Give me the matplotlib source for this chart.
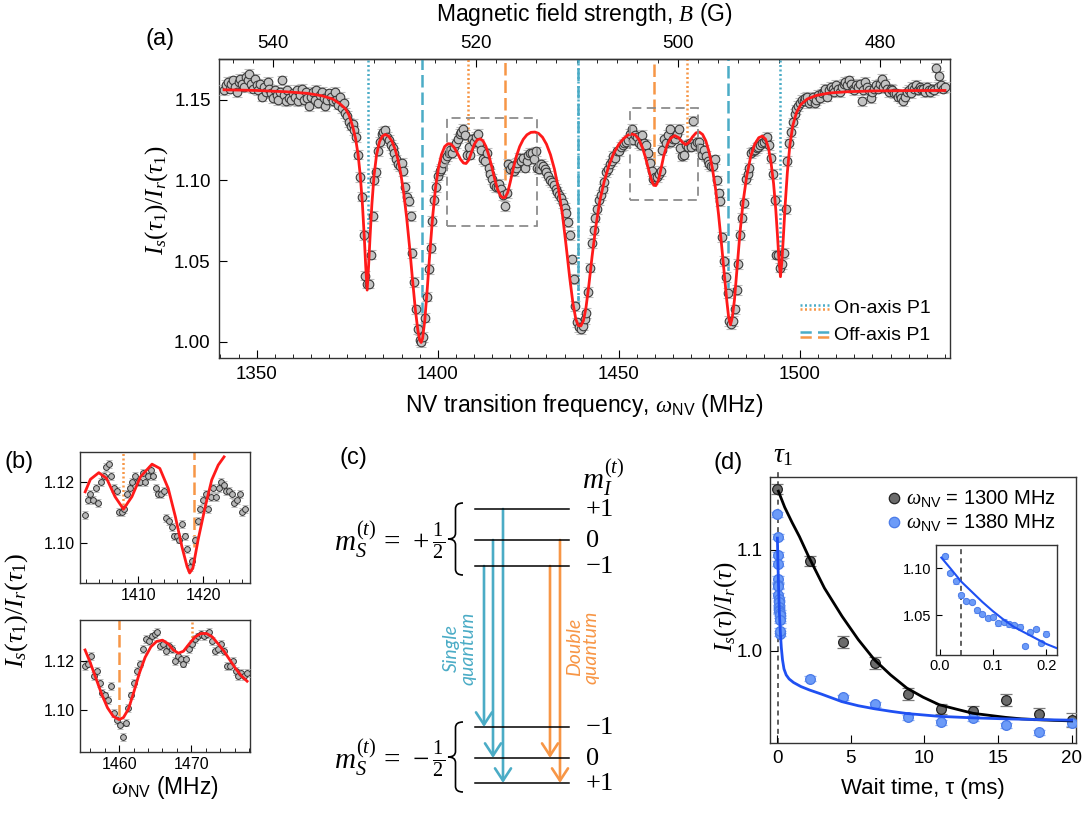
import numpy as np
import matplotlib.pyplot as plt
from matplotlib.path import Path
from matplotlib.patches import PathPatch, Rectangle, FancyArrowPatch
from matplotlib.ticker import MultipleLocator, FormatStrFormatter

plt.rcParams['font.family'] = ['Liberation Sans', 'DejaVu Sans']
plt.rcParams['mathtext.fontset'] = 'custom'
plt.rcParams['mathtext.rm'] = 'Liberation Serif'
plt.rcParams['mathtext.it'] = 'Liberation Serif:italic'
plt.rcParams['mathtext.bf'] = 'Liberation Serif:bold'
plt.rcParams['mathtext.sf'] = 'Liberation Sans'
plt.rcParams['axes.linewidth'] = 1.0
plt.rcParams['axes.edgecolor'] = '#333333'

BLUE = '#4bacc6'
ORANGE = '#f79646'
RED = '#ff1a1a'

# ---------------- panel (a): sweep over NV frequency ----------------
freq_start = 1341.0
freq_step = 0.5
ratio_a = [
    1.156, 1.159, 1.161, 1.157, 1.160, 1.162, 1.158, 1.155, 1.161, 1.163,
    1.160, 1.158, 1.164, 1.162, 1.166, 1.160, 1.157, 1.163, 1.159, 1.156,
    1.160, 1.152, 1.158, 1.155, 1.161, 1.157, 1.154, 1.151, 1.156, 1.153,
    1.150, 1.155, 1.162, 1.153, 1.149, 1.156, 1.151, 1.150, 1.154, 1.152,
    1.156, 1.149, 1.153, 1.157, 1.150, 1.155, 1.151, 1.146, 1.152, 1.155,
    1.150, 1.156, 1.148, 1.153, 1.155, 1.151, 1.146, 1.150, 1.154, 1.152,
    1.149, 1.155, 1.150, 1.147, 1.152, 1.145, 1.148, 1.142, 1.140, 1.136,
    1.134, 1.135, 1.131, 1.127, 1.116, 1.102, 1.090, 1.066, 1.041, 1.036,
    1.036, 1.054, 1.078, 1.100, 1.105, 1.118, 1.124, 1.129, 1.130, 1.131,
    1.127, 1.125, 1.122, 1.120, 1.117, 1.113, 1.110, 1.109, 1.111, 1.106,
    1.096, 1.090, 1.087, 1.078, 1.055, 1.037, 1.020, 1.008, 1.001, 1.000,
    1.003, 1.015, 1.028, 1.045, 1.058, 1.075, 1.088, 1.096, 1.103, 1.106,
    1.107, 1.111, 1.113, 1.115, 1.117, 1.119, 1.117, 1.121, 1.123, 1.126,
    1.129, 1.130, 1.132, 1.128, 1.116, 1.121, 1.116, 1.126, 1.124, 1.127,
    1.129, 1.123, 1.119, 1.113, 1.112, 1.117, 1.108, 1.104, 1.101, 1.097,
    1.096, 1.096, 1.098, 1.095, 1.091, 1.084, 1.092, 1.110, 1.107, 1.109,
    1.106, 1.108, 1.111, 1.114, 1.112, 1.114, 1.108, 1.112, 1.116, 1.117,
    1.117, 1.113, 1.118, 1.108, 1.107, 1.110, 1.109, 1.107, 1.105, 1.103,
    1.100, 1.099, 1.097, 1.095, 1.093, 1.091, 1.089, 1.086, 1.083, 1.080,
    1.074, 1.066, 1.051, 1.039, 1.022, 1.012, 1.009, 1.008, 1.010, 1.014,
    1.018, 1.031, 1.046, 1.061, 1.069, 1.077, 1.082, 1.088, 1.091, 1.095,
    1.099, 1.105, 1.107, 1.110, 1.112, 1.115, 1.114, 1.118, 1.118, 1.121,
    1.122, 1.123, 1.124, 1.125, 1.129, 1.132, 1.125, 1.128, 1.127, 1.123,
    1.122, 1.128, 1.123, 1.122, 1.117, 1.111, 1.106, 1.101, 1.102, 1.102,
    1.104, 1.106, 1.119, 1.126, 1.123, 1.128, 1.132, 1.124, 1.126, 1.126,
    1.129, 1.132, 1.120, 1.115, 1.116, 1.122, 1.121, 1.123, 1.121, 1.137,
    1.122, 1.124, 1.124, 1.120, 1.116, 1.119, 1.115, 1.112, 1.110, 1.109,
    1.109, 1.113, 1.100, 1.092, 1.087, 1.065, 1.050, 1.040, 1.030, 1.013,
    1.011, 1.013, 1.020, 1.032, 1.048, 1.066, 1.077, 1.086, 1.101, 1.104,
    1.108, 1.117, 1.118, 1.119, 1.120, 1.121, 1.122, 1.123, 1.124, 1.126,
    1.127, 1.122, 1.114, 1.104, 1.088, 1.054, 1.054, 1.046, 1.048, 1.055,
    1.082, 1.112, 1.123, 1.130, 1.136, 1.141, 1.144, 1.146, 1.148, 1.150,
    1.149, 1.151, 1.152, 1.148, 1.149, 1.152, 1.148, 1.150, 1.153, 1.151,
    1.154, 1.155, 1.157, 1.152, 1.156, 1.158, 1.157, 1.155, 1.159, 1.157,
    1.155, 1.158, 1.160, 1.161, 1.159, 1.162, 1.160, 1.157, 1.156, 1.159,
    1.158, 1.160, 1.149, 1.156, 1.161, 1.158, 1.156, 1.151, 1.155, 1.157,
    1.159, 1.157, 1.160, 1.163, 1.158, 1.160, 1.157, 1.155, 1.157, 1.156,
    1.154, 1.154, 1.152, 1.153, 1.151, 1.149, 1.152, 1.155, 1.156, 1.154,
    1.158, 1.157, 1.159, 1.156, 1.158, 1.157, 1.157, 1.155, 1.158, 1.156,
    1.155, 1.157, 1.156, 1.170, 1.158, 1.165, 1.159, 1.157, 1.158,
]
err_a = 0.003

fit_a_freq = [
    1341.0, 1350.0, 1358.0, 1364.0, 1368.0, 1371.0, 1373.0, 1374.5, 1375.5, 1376.5,
    1377.3, 1378.0, 1378.6, 1379.2, 1379.7, 1380.1, 1380.5, 1380.9, 1381.3, 1381.8,
    1382.4, 1383.1, 1383.9, 1384.7, 1385.5, 1386.4, 1387.3, 1388.2, 1389.0, 1389.8,
    1390.6, 1391.4, 1392.2, 1393.0, 1393.8, 1394.5, 1395.0, 1395.4, 1395.8, 1396.4,
    1397.1, 1397.8, 1398.6, 1399.4, 1400.2, 1401.0, 1401.9, 1402.8, 1403.6, 1404.5,
    1405.4, 1406.3, 1407.1, 1407.8, 1408.5, 1409.3, 1410.1, 1410.9, 1411.7, 1412.5,
    1413.3, 1414.1, 1414.9, 1415.7, 1416.5, 1417.3, 1418.0, 1418.6, 1419.3, 1420.0,
    1420.8, 1421.7, 1422.6, 1423.6, 1424.6, 1425.7, 1426.8, 1427.8, 1428.9, 1430.0,
    1431.1, 1432.2, 1433.3, 1434.4, 1435.4, 1436.4, 1437.3, 1438.1, 1438.8, 1439.5,
    1440.2, 1440.9, 1441.7, 1442.6, 1443.6, 1444.7, 1445.9, 1447.2, 1448.6, 1450.0,
    1451.4, 1452.6, 1453.5, 1454.5, 1455.5, 1456.4, 1457.3, 1458.1, 1458.9, 1459.6,
    1460.2, 1460.9, 1461.6, 1462.4, 1463.3, 1464.3, 1465.4, 1466.5, 1467.5, 1468.4,
    1469.3, 1470.3, 1471.3, 1472.2, 1473.1, 1474.0, 1474.9, 1475.8, 1476.7, 1477.5,
    1478.3, 1479.1, 1479.8, 1480.3, 1480.8, 1481.3, 1481.9, 1482.6, 1483.4, 1484.3,
    1485.3, 1486.4, 1487.5, 1488.6, 1489.6, 1490.5, 1491.3, 1492.0, 1492.7, 1493.3,
    1493.8, 1494.2, 1494.6, 1495.0, 1495.4, 1495.9, 1496.5, 1497.2, 1498.0, 1499.0,
    1500.2, 1502.0, 1504.5, 1508.0, 1513.0, 1520.0, 1530.0, 1540.0,
]
fit_a_ratio = [
    1.1562, 1.1558, 1.1550, 1.1540, 1.1525, 1.1505, 1.1475, 1.1445, 1.1405, 1.1335,
    1.1260, 1.1160, 1.1030, 1.0850, 1.0650, 1.0470, 1.0320, 1.0470, 1.0650, 1.0850,
    1.1030, 1.1160, 1.1240, 1.1275, 1.1285, 1.1275, 1.1245, 1.1195, 1.1130, 1.1040,
    1.0920, 1.0770, 1.0590, 1.0390, 1.0200, 1.0070, 1.0010, 0.9995, 1.0020, 1.0130,
    1.0330, 1.0550, 1.0780, 1.0960, 1.1080, 1.1160, 1.1210, 1.1228, 1.1225, 1.1205,
    1.1170, 1.1130, 1.1108, 1.1105, 1.1125, 1.1175, 1.1225, 1.1252, 1.1258, 1.1245,
    1.1210, 1.1155, 1.1085, 1.1010, 1.0945, 1.0905, 1.0892, 1.0895, 1.0925, 1.0990,
    1.1070, 1.1150, 1.1210, 1.1255, 1.1283, 1.1298, 1.1300, 1.1292, 1.1268, 1.1225,
    1.1160, 1.1070, 1.0950, 1.0790, 1.0600, 1.0400, 1.0240, 1.0140, 1.0100, 1.0098,
    1.0130, 1.0210, 1.0350, 1.0530, 1.0710, 1.0870, 1.0990, 1.1090, 1.1170, 1.1225,
    1.1262, 1.1283, 1.1288, 1.1282, 1.1255, 1.1210, 1.1145, 1.1075, 1.1010, 1.0970,
    1.0968, 1.1000, 1.1070, 1.1155, 1.1220, 1.1262, 1.1278, 1.1265, 1.1237, 1.1222,
    1.1235, 1.1270, 1.1295, 1.1300, 1.1285, 1.1245, 1.1175, 1.1075, 1.0945, 1.0790,
    1.0610, 1.0420, 1.0250, 1.0150, 1.0105, 1.0150, 1.0260, 1.0450, 1.0670, 1.0870,
    1.1030, 1.1150, 1.1225, 1.1265, 1.1275, 1.1255, 1.1200, 1.1110, 1.0980, 1.0820,
    1.0650, 1.0500, 1.0403, 1.0500, 1.0650, 1.0850, 1.1050, 1.1220, 1.1340, 1.1420,
    1.1470, 1.1505, 1.1527, 1.1542, 1.1550, 1.1555, 1.1557, 1.1558,
]

# P1 resonance markers: position (MHz) and lower end of the line
on_blue_f, on_blue_lo = [1380.6, 1438.7, 1494.6], [1.062, 1.021, 1.056]
off_blue_f, off_blue_lo = [1395.6, 1438.7, 1480.1], [1.006, 1.021, 1.033]
on_orange_f, on_orange_lo = [1408.3, 1468.8], [1.121, 1.127]
off_orange_f, off_orange_lo = [1418.6, 1459.8], [1.100, 1.110]
zoom_boxes = [(1402.5, 1427.5, 1.072, 1.139), (1453.1, 1471.8, 1.088, 1.145)]

# ---------------- panel (b): zoomed scans ----------------
freq_b1_start, freq_b1_end = 1401.8, 1426.4
ratio_b1 = [
    1.109, 1.114, 1.116, 1.114, 1.118, 1.113, 1.120, 1.122, 1.125, 1.126,
    1.122, 1.118, 1.117, 1.110, 1.110, 1.111, 1.116, 1.118, 1.120, 1.122,
    1.120, 1.120, 1.123, 1.120, 1.122, 1.124, 1.122, 1.118, 1.116, 1.116,
    1.117, 1.108, 1.107, 1.105, 1.102, 1.102, 1.101, 1.106, 1.102, 1.098,
    1.092, 1.094, 1.101, 1.107, 1.111, 1.114, 1.116, 1.111, 1.115, 1.118,
    1.115, 1.118, 1.120, 1.119, 1.117, 1.117, 1.116, 1.113, 1.114, 1.116,
    1.110, 1.111,
]
fit_b1_freq = [1401.8, 1402.6, 1403.9, 1405.1, 1406.4, 1407.7, 1409.0, 1410.3, 1412.1,
               1413.3, 1414.6, 1415.7, 1416.7, 1417.5, 1417.9, 1418.4, 1419.2, 1420.3,
               1421.3, 1422.3, 1423.2]
fit_b1_ratio = [1.1167, 1.1208, 1.1230, 1.1211, 1.1151, 1.1110, 1.1151, 1.1216, 1.1258,
                1.1244, 1.1178, 1.1085, 1.0987, 1.0921, 1.0900, 1.0916, 1.1009, 1.1118,
                1.1206, 1.1255, 1.1282]
lines_b1 = [(1407.7, 1.1124, 'on'), (1418.6, 1.0987, 'off')]

freq_b2_start, freq_b2_end = 1455.3, 1477.7
ratio_b2 = [
    1.118, 1.119, 1.122, 1.114, 1.116, 1.111, 1.107, 1.106, 1.104, 1.110,
    1.099, 1.096, 1.094, 1.089, 1.095, 1.101, 1.106, 1.111, 1.116, 1.119,
    1.125, 1.129, 1.128, 1.130, 1.131, 1.132, 1.126, 1.127, 1.124, 1.126,
    1.125, 1.120, 1.122, 1.121, 1.119, 1.121, 1.125, 1.127, 1.129, 1.130,
    1.131, 1.130, 1.131, 1.132, 1.128, 1.124, 1.125, 1.127, 1.124, 1.118,
    1.118, 1.120, 1.116, 1.114, 1.115, 1.114, 1.115,
]
fit_b2_freq = [1455.3, 1456.0, 1456.8, 1457.6, 1458.4, 1459.2, 1460.0, 1460.6, 1461.3, 1462.0,
               1462.8, 1463.6, 1464.4, 1465.2, 1466.0, 1466.8, 1467.5, 1468.2, 1468.9, 1469.7,
               1470.5, 1471.3, 1472.1, 1472.9, 1473.7, 1474.5, 1475.3, 1476.1, 1476.9, 1477.7]
fit_b2_ratio = [1.1245, 1.1195, 1.1130, 1.1065, 1.1010, 1.0975, 1.0962, 1.0970, 1.1005, 1.1070,
                1.1150, 1.1215, 1.1258, 1.1280, 1.1285, 1.1270, 1.1245, 1.1232, 1.1240, 1.1270,
                1.1298, 1.1312, 1.1312, 1.1298, 1.1270, 1.1240, 1.1205, 1.1170, 1.1140, 1.1118]
lines_b2 = [(1460.0, 1.0973, 'off'), (1470.1, 1.1279, 'on')]

# ---------------- panel (c): level scheme ----------------
mI_values = [1, 0, -1]
mI_labels = {1: r'$+1$', 0: r'$0$', -1: r'$-1$'}
single_quantum = [(-1, -1), (0, 0), (1, 1)]     # (upper m_I, lower m_I)
double_quantum = [(-1, 0), (0, 1)]

# ---------------- panel (d): relaxation ----------------
tau_black = [0.0, 2.22, 4.44, 6.67, 8.89, 11.11, 13.33, 15.56, 17.78, 20.0]
ratio_black = [1.160, 1.089, 1.009, 0.988, 0.957, 0.942, 0.940, 0.951, 0.937, 0.931]
err_black = [0.005, 0.005, 0.006, 0.006, 0.006, 0.005, 0.005, 0.006, 0.006, 0.007]
tau_blue = [0.0, 0.01, 0.02, 0.03, 0.04, 0.05, 0.06, 0.07, 0.08, 0.09, 0.10,
            0.11, 0.12, 0.13, 0.14, 0.15, 0.16, 0.17, 0.18, 0.19, 0.20,
            2.22, 4.44, 6.67, 8.89, 11.11, 13.33, 15.56, 17.78, 20.0]
ratio_blue = [1.135, 1.113, 1.095, 1.086, 1.071, 1.065, 1.064, 1.055, 1.051, 1.047, 1.048,
              1.041, 1.043, 1.040, 1.039, 1.0375, 1.017, 1.0315, 1.035, 1.020, 1.030,
              0.972, 0.954, 0.947, 0.934, 0.929, 0.933, 0.926, 0.919, 0.928]
err_blue = 0.0025
fit_black_tau = [0.07, 0.5, 1.0, 1.5, 2.1, 3.2, 4.4, 5.5, 6.6, 7.7, 8.8, 9.9, 11.0,
                 12.2, 13.3, 14.4, 15.5, 16.6, 17.7, 18.8, 20.0]
fit_black = [1.158, 1.142, 1.127, 1.113, 1.094, 1.062, 1.034, 1.011, 0.991, 0.976, 0.963,
             0.954, 0.9465, 0.942, 0.938, 0.936, 0.934, 0.9325, 0.9317, 0.931, 0.9305]
fit_blue_tau = [0.003, 0.02, 0.04, 0.06, 0.08, 0.10, 0.12, 0.14, 0.16, 0.18, 0.20, 0.27,
                0.35, 0.45, 0.6, 0.8, 1.1, 1.6, 2.2, 3.0, 4.4, 5.5, 6.6, 7.7, 8.8,
                11.0, 13.3, 15.5, 17.7, 20.0]
fit_blue = [1.1115, 1.100, 1.086, 1.075, 1.064, 1.054, 1.045, 1.037, 1.031, 1.025, 1.019, 1.003,
            0.991, 0.982, 0.976, 0.972, 0.9685, 0.9645, 0.961, 0.957, 0.9495, 0.9455, 0.9425,
            0.940, 0.9378, 0.935, 0.9335, 0.9325, 0.9318, 0.9312]
tau_1 = 0.04

NV = r'$\omega_{\mathsf{NV}}$'


def f_to_b(f):
    return (2862.1 - np.asarray(f, dtype=float)) / 2.7917


def b_to_f(b):
    return 2862.1 - 2.7917 * np.asarray(b, dtype=float)


def px_axes(fig, x0, y0, x1, y1):
    W, H = fig.get_size_inches() * fig.dpi
    return fig.add_axes([x0 / W, 1 - y1 / H, (x1 - x0) / W, (y1 - y0) / H])


fig = plt.figure(figsize=(10.88, 8.13), dpi=100)
W, H = 1088, 813

# ================= (a) =================
ax = px_axes(fig, 219, 59, 950, 358)
freq_a = freq_start + freq_step * np.arange(len(ratio_a))
ax.errorbar(freq_a, ratio_a, yerr=err_a, fmt='o', ms=6.2, mfc='#c3c3c3', mec='#3a3a3a',
            mew=0.8, ecolor='#bdbdbd', elinewidth=0.8, capsize=3.5, capthick=1.0, zorder=3)
dot = (0, (0.8, 1.0))
dash = (0, (5, 2))
ax.vlines(on_blue_f, on_blue_lo, 1.18, colors=BLUE, linestyles=dot, lw=1.8, zorder=2)
ax.vlines(off_blue_f, off_blue_lo, 1.18, colors=BLUE, linestyles=dash, lw=1.8, zorder=2)
ax.vlines(on_orange_f, on_orange_lo, 1.18, colors=ORANGE, linestyles=dot, lw=1.8, zorder=2)
ax.vlines(off_orange_f, off_orange_lo, 1.18, colors=ORANGE, linestyles=dash, lw=1.8, zorder=2)
ax.plot(fit_a_freq, fit_a_ratio, color=RED, lw=2.0, zorder=4)
for x0, x1, y0, y1 in zoom_boxes:
    ax.add_patch(Rectangle((x0, y0), x1 - x0, y1 - y0, fill=False, ec='#8c8c8c', lw=1.3,
                           ls=(0, (5, 3)), zorder=5))
ax.set_xlim(1339.6, 1541.4)
ax.set_ylim(0.9899, 1.1753)
ax.set_xticks([1350, 1400, 1450, 1500])
ax.xaxis.set_minor_locator(MultipleLocator(5))
ax.set_yticks([1.00, 1.05, 1.10, 1.15])
ax.yaxis.set_major_formatter(FormatStrFormatter('%.2f'))
ax.tick_params(which='both', direction='in', top=False, right=False)
ax.tick_params(which='major', length=6, labelsize=13.5, pad=6)
ax.tick_params(which='minor', length=3)
sec = ax.secondary_xaxis('top', functions=(f_to_b, b_to_f))
sec.set_xticks([540, 520, 500, 480])
sec.xaxis.set_minor_locator(MultipleLocator(2))
sec.tick_params(which='both', direction='in')
sec.tick_params(which='major', length=6, labelsize=13.5, pad=5)
sec.tick_params(which='minor', length=3)

fig.text(584 / W, 1 - 14 / H, 'Magnetic field strength, $B$ (G)', ha='center', va='center', fontsize=16.5)
fig.text(584 / W, 1 - 405 / H, 'NV transition frequency, ' + NV + ' (MHz)',
         ha='center', va='center', fontsize=16.5)
fig.text(157 / W, 1 - 200 / H, r'$I_s(\tau_1)/I_r(\tau_1)$', rotation=90, ha='center', va='center', fontsize=18)

# ================= (b) =================
def panel_b(box, f0, f1, vals, err, fx, fy, lines, xlim, ylim, xticks):
    a = px_axes(fig, *box)
    fr = np.linspace(f0, f1, len(vals))
    for x, lo, kind in lines:
        a.vlines(x, lo, ylim[1], colors=ORANGE, lw=1.8,
                 linestyles=dot if kind == 'on' else dash, zorder=2)
    a.errorbar(fr, vals, yerr=err, fmt='o', ms=4.2, mfc='#b8b8b8', mec='#333333', mew=0.7,
               ecolor='#bbbbbb', elinewidth=0.8, capsize=2.5, capthick=0.9, zorder=3)
    a.plot(fx, fy, color=RED, lw=2.0, zorder=4)
    a.set_xlim(*xlim)
    a.set_ylim(*ylim)
    a.set_xticks(xticks)
    a.xaxis.set_minor_locator(MultipleLocator(2))
    a.set_yticks([1.10, 1.12])
    a.yaxis.set_major_formatter(FormatStrFormatter('%.2f'))
    a.tick_params(which='both', direction='in', labelsize=11.5)
    a.tick_params(which='major', length=5)
    a.tick_params(which='minor', length=3)
    return a


panel_b((80, 452, 250, 583), freq_b1_start, freq_b1_end, ratio_b1, 0.0013,
        fit_b1_freq, fit_b1_ratio, lines_b1, (1401.0, 1427.2), (1.0867, 1.1298), [1410, 1420])
panel_b((80, 620, 250, 752), freq_b2_start, freq_b2_end, ratio_b2, 0.0016,
        fit_b2_freq, fit_b2_ratio, lines_b2, (1454.6, 1478.1), (1.083, 1.1367), [1460, 1470])
fig.text(17 / W, 1 - 610 / H, r'$I_s(\tau_1)/I_r(\tau_1)$', rotation=90, ha='center', va='center', fontsize=19)
fig.text(165 / W, 1 - 787 / H, NV + ' (MHz)', ha='center', va='center', fontsize=16.5)

# ================= (d) =================
axd = px_axes(fig, 770, 477, 1076, 743)
axd.axvline(tau_1, ymin=0, ymax=1.025, color='#444444', lw=1.2, ls=(0, (3, 2.5)), zorder=1, clip_on=False)
axd.errorbar(tau_black, ratio_black, yerr=err_black, fmt='o', ms=7, mfc='#6b6b6b', mec='#222222',
             mew=0.9, ecolor='#7a7a7a', elinewidth=1.0, capsize=4, capthick=1.0, zorder=3)
axd.errorbar(tau_blue, ratio_blue, yerr=err_blue, fmt='o', ms=7, mfc='#6c9bf8', mec='#4a7be8',
             mew=0.9, ecolor='#8fb0f5', elinewidth=1.0, capsize=4, capthick=1.0, zorder=3)
axd.plot(fit_black_tau, fit_black, color='black', lw=2.0, zorder=4)
axd.plot(fit_blue_tau, fit_blue, color='#1f50f2', lw=2.0, zorder=4)
axd.set_xlim(-0.5, 20.3)
axd.set_ylim(0.9086, 1.172)
axd.set_xticks([0, 5, 10, 15, 20])
axd.set_yticks([1.0, 1.1])
axd.yaxis.set_major_formatter(FormatStrFormatter('%.1f'))
axd.tick_params(direction='in', length=6, labelsize=13.5, top=False, right=False, pad=5)
fig.text(923 / W, 1 - 788 / H, 'Wait time, \u03c4 (ms)', ha='center', va='center', fontsize=16)
fig.text(726 / W, 1 - 607 / H, r'$I_s(\tau)/I_r(\tau)$', rotation=90, ha='center', va='center', fontsize=18)
fig.text(783 / W, 1 - 455 / H, r'$\tau_1$', ha='center', va='center', fontsize=20)

axi = px_axes(fig, 936, 545, 1057, 655)
axi.axvline(tau_1, color='#444444', lw=1.2, ls=(0, (3, 2.5)), zorder=1)
axi.errorbar(tau_blue, ratio_blue, yerr=err_blue, fmt='o', ms=4.5, mfc='#6c9bf8', mec='#4a7be8',
             mew=0.7, ecolor='#8fb0f5', elinewidth=0.8, capsize=2.5, capthick=0.8, zorder=3)
axi.plot(fit_blue_tau, fit_blue, color='#1f50f2', lw=1.5, zorder=4)
axi.set_xlim(-0.007, 0.22)
axi.set_ylim(1.0072, 1.125)
axi.set_xticks([0.0, 0.1, 0.2])
axi.set_yticks([1.05, 1.10])
axi.xaxis.set_major_formatter(FormatStrFormatter('%.1f'))
axi.yaxis.set_major_formatter(FormatStrFormatter('%.2f'))
axi.tick_params(direction='in', length=4, labelsize=10.5, pad=3)

# ================= overlay in figure pixels: (c), legends, panel letters =================
ov = fig.add_axes([0, 0, 1, 1])
ov.set_xlim(0, W)
ov.set_ylim(H, 0)
ov.axis('off')
ov.set_zorder(20)

for s, (x, y) in zip('abcd', [(160, 39), (19, 462), (353, 458), (728, 463)]):
    ov.text(x, y, f'({s})', ha='center', va='center', fontsize=17)

# legend of (a)
ov.plot([800, 831], [305, 305], color=BLUE, ls=dot, lw=1.8)
ov.plot([800, 831], [309, 309], color=ORANGE, ls=dot, lw=1.8)
ov.plot([800, 831], [332, 332], color=BLUE, ls=(0, (4.5, 2.5)), lw=1.8)
ov.plot([800, 831], [337, 337], color=ORANGE, ls=(0, (4.5, 2.5)), lw=1.8)
ov.text(834, 308, 'On-axis P1', ha='left', va='center', fontsize=14)
ov.text(834, 335, 'Off-axis P1', ha='left', va='center', fontsize=14)

# legend of (d)
ov.plot(894, 498, 'o', ms=7.5, mfc='#6b6b6b', mec='#222222', mew=0.9)
ov.plot(894, 522, 'o', ms=7.5, mfc='#6c9bf8', mec='#4a7be8', mew=0.9)
ov.text(906, 498, NV + ' = 1300 MHz', ha='left', va='center', fontsize=14.5)
ov.text(906, 522, NV + ' = 1380 MHz', ha='left', va='center', fontsize=14.5)

# (c) level scheme
upper_y = {1: 509, 0: 540, -1: 566}
lower_y = {-1: 727, 0: 758, 1: 783}
sq_x = {-1: 484, 0: 493, 1: 503}
dq_x = {-1: 550, 0: 560}
for m in mI_values:
    for y in (upper_y[m], lower_y[m]):
        ov.plot([475, 569], [y, y], color='black', lw=1.1)
        ov.text(585, y, mI_labels[m], ha='left', va='center', fontsize=19)
ov.text(603, 478, r'$m_I^{(t)}$', ha='center', va='center', fontsize=21)
ov.text(445, 540, r'$m_S^{(t)}\,=\,+\frac{1}{2}$', ha='right', va='center', fontsize=21)
ov.text(445, 758, r'$m_S^{(t)}\,=\,-\frac{1}{2}$', ha='right', va='center', fontsize=21)


def brace(x_end, x_tip, y0, y1):
    ym = (y0 + y1) / 2
    xm = (x_end + x_tip) / 2
    r = (y1 - y0) * 0.08
    verts = [(x_end, y0), (xm, y0), (xm, y0 + r), (xm, ym - r), (xm, ym), (x_tip, ym),
             (xm, ym), (xm, ym + r), (xm, y1 - r), (xm, y1), (x_end, y1)]
    codes = [Path.MOVETO, Path.CURVE3, Path.CURVE3, Path.LINETO, Path.CURVE3, Path.CURVE3,
             Path.CURVE3, Path.CURVE3, Path.LINETO, Path.CURVE3, Path.CURVE3]
    ov.add_patch(PathPatch(Path(verts, codes), fill=False, lw=1.2, ec='black'))


brace(463, 448, 503, 575)
brace(463, 448, 722, 792)


def transition(x, y0, y1, color):
    ov.add_patch(FancyArrowPatch((x, y0), (x, y1), arrowstyle='->,head_length=0.55,head_width=0.36',
                                 mutation_scale=16, lw=1.9, color=color, shrinkA=0, shrinkB=0))


for up, lo in single_quantum:
    transition(sq_x[up], upper_y[up], lower_y[lo], BLUE)
for up, lo in double_quantum:
    transition(dq_x[up], upper_y[up], lower_y[lo], ORANGE)
ov.text(460, 648, 'Single\nquantum', rotation=90, ha='center', va='center', color=BLUE,
        fontsize=14, style='italic', family='Lato', linespacing=1.0)
ov.text(583, 647, 'Double\nquantum', rotation=90, ha='center', va='center', color=ORANGE,
        fontsize=14, style='italic', family='Lato', linespacing=1.0)

fig.savefig('out.png', dpi=100)
